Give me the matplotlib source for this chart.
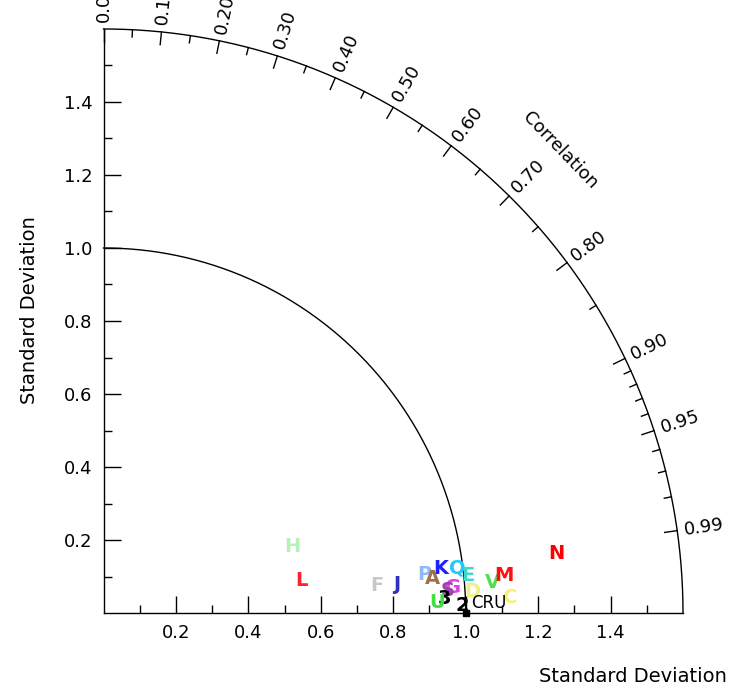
import numpy as np
import matplotlib
matplotlib.use('Agg')
import matplotlib.pyplot as plt

# ---- data (std dev ratio vs CRU, correlation with CRU) ----
labels = ["H", "L", "F", "J", "P", "A", "K", "Q", "E", "G", "S", "3", "U", "2", "D", "V", "M", "C", "N"]
stddev = [0.553, 0.555, 0.759, 0.812, 0.891, 0.912, 0.940, 0.985, 1.012, 0.968, 0.951, 0.942, 0.922, 0.990, 1.020, 1.077, 1.111, 1.124, 1.261]
corr = [0.945, 0.987, 0.995, 0.9955, 0.9928, 0.9945, 0.9914, 0.9922, 0.9947, 0.9973, 0.9979, 0.9991, 0.9995, 0.9998, 0.9984, 0.9969, 0.9956, 0.9993, 0.9915]
colors = ["#b8f0b8", "#ff2030", "#c8c8c8", "#3030c0", "#90b8ff", "#a0704a", "#2020ff", "#20c8ff",
          "#40d8c8", "#e040e0", "#a040b0", "black", "#40e040", "black", "#f0f080", "#50e050",
          "#ff1010", "#f8f070", "#ff0000"]
ref_name = "CRU"

corr_ticks = [0.0, 0.1, 0.2, 0.3, 0.4, 0.5, 0.6, 0.7, 0.8, 0.9, 0.95, 0.99]
corr_labels = ["0.00", "0.10", "0.20", "0.30", "0.40", "0.50", "0.60", "0.70", "0.80", "0.90", "0.95", "0.99"]
std_ticks = [0.2, 0.4, 0.6, 0.8, 1.0, 1.2, 1.4]

plt.rcParams['font.family'] = ['DejaVu Sans']
rmax = 1.6

fig = plt.figure(figsize=(7.35, 6.88), dpi=100)
ax = fig.add_axes([103.5 / 735, (688 - 613) / 688, 579.5 / 735, 584 / 688])
ax.set_xlim(0, rmax)
ax.set_ylim(0, rmax)
for s in ['top', 'right']:
    ax.spines[s].set_visible(False)
for s in ['left', 'bottom']:
    ax.spines[s].set_linewidth(1.0)

ax.set_xticks(std_ticks)
ax.set_yticks(std_ticks)
ax.set_xticks(np.arange(0.1, 1.6, 0.2), minor=True)
ax.set_yticks(np.arange(0.1, 1.6, 0.2), minor=True)
ax.set_xticklabels([f"{v:.1f}" for v in std_ticks])
ax.set_yticklabels([f"{v:.1f}" for v in std_ticks])
ax.tick_params(which='major', direction='in', length=12, width=1, labelsize=13, pad=8)
ax.tick_params(which='minor', direction='in', length=6, width=1)

# arcs
th = np.linspace(0, np.pi / 2, 300)
ax.plot(rmax * np.cos(th), rmax * np.sin(th), color='black', lw=1.0, clip_on=False)
ax.plot(1.0 * np.cos(th), 1.0 * np.sin(th), color='black', lw=1.0, clip_on=False)

# correlation ticks
minor_c = list(np.arange(0.05, 0.9, 0.1)) + [0.91, 0.92, 0.93, 0.94, 0.96, 0.97, 0.98]
for c in minor_c:
    a = np.arccos(c)
    ax.plot([rmax * np.cos(a), (rmax - 0.02) * np.cos(a)], [rmax * np.sin(a), (rmax - 0.02) * np.sin(a)],
            color='black', lw=1.0, clip_on=False)
for c, lab in zip(corr_ticks, corr_labels):
    a = np.arccos(c)
    ax.plot([rmax * np.cos(a), (rmax - 0.035) * np.cos(a)], [rmax * np.sin(a), (rmax - 0.035) * np.sin(a)],
            color='black', lw=1.0, clip_on=False)
    r = rmax + 0.02
    ax.text(r * np.cos(a), r * np.sin(a), lab, rotation=np.degrees(a), rotation_mode='anchor',
            ha='left', va='center', fontsize=13, clip_on=False)

ax.text(1.261, 1.268, "Correlation", rotation=-46, ha='center', va='center', fontsize=13)

# models as letters
for lab, s, c, col in zip(labels, stddev, corr, colors):
    x = s * c
    y = s * np.sqrt(1 - c ** 2)
    ax.text(x, y, lab, color=col, fontsize=14, fontweight='bold', ha='center', va='center')

# reference point
ax.plot([1.0], [0.0], marker='s', color='black', markersize=5, clip_on=False)
ax.text(1.015, 0.003, ref_name, fontsize=12, ha='left', va='bottom', color='black')

fig.text(30 / 735, 1 - 310 / 688, "Standard Deviation", rotation=90, ha='center', va='center', fontsize=14)
fig.text(727 / 735, 1 - 676 / 688, "Standard Deviation", ha='right', va='center', fontsize=14)

fig.savefig("out.png", dpi=100)
